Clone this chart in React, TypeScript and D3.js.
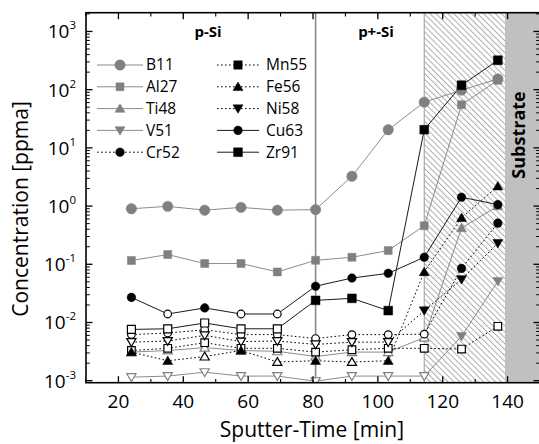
import * as d3 from 'd3';

// sputter times of the measurement points [min]
const times = [24, 35.2, 46.6, 57.8, 69, 80.8, 92, 103.2, 114.3, 125.8, 137];

// concentrations [ppma]
const b11 = [0.9, 0.99, 0.85, 0.95, 0.85, 0.87, 3.25, 20.5, 61, 98, 153];
const al27 = [0.116, 0.147, 0.103, 0.103, 0.074, 0.117, 0.132, 0.172, 0.46, 55, 145];
const ti48 = [0.0031, 0.0033, 0.0037, 0.0033, 0.0032, 0.0026, 0.0031, 0.0031, 0.0055, 0.42, 1.0];
const v51 = [0.00115, 0.0012, 0.0014, 0.0012, 0.0012, 0.00098, 0.0012, 0.0012, 0.0012, 0.0058, 0.051];
const cr52 = [0.0062, 0.0066, 0.0075, 0.0062, 0.0062, 0.0053, 0.0062, 0.0062, 0.0063, 0.085, 0.51];
const mn55 = [0.0033, 0.0036, 0.0045, 0.0036, 0.0036, 0.0031, 0.0034, 0.0036, 0.0036, 0.0035, 0.0086];
const fe56 = [0.0031, 0.0022, 0.0026, 0.0033, 0.0021, 0.0022, 0.0021, 0.0022, 0.074, 0.63, 2.2];
const ni58 = [0.0046, 0.0048, 0.006, 0.0047, 0.0048, 0.0042, 0.0046, 0.0046, 0.016, 0.055, 0.23];
const cu63 = [0.027, 0.014, 0.0178, 0.014, 0.014, 0.042, 0.058, 0.07, 0.132, 1.42, 1.06];
const zr91 = [0.0076, 0.0078, 0.0098, 0.0078, 0.0078, 0.024, 0.026, 0.016, 20.5, 119, 320];

// 1 = below detection limit (open marker)
const ti48Bdl = [1, 1, 1, 1, 1, 1, 1, 1, 1, 0, 0];
const v51Bdl = [1, 1, 1, 1, 1, 1, 1, 1, 1, 0, 0];
const cr52Bdl = [1, 1, 1, 1, 1, 1, 1, 1, 1, 0, 0];
const mn55Bdl = [1, 1, 1, 1, 1, 1, 1, 1, 1, 1, 1];
const fe56Bdl = [0, 0, 1, 0, 1, 0, 1, 0, 0, 0, 0];
const ni58Bdl = [1, 1, 1, 1, 1, 1, 1, 1, 0, 0, 0];
const cu63Bdl = [0, 1, 0, 1, 1, 0, 0, 0, 0, 0, 0];
const zr91Bdl = [1, 1, 1, 1, 1, 0, 0, 0, 0, 0, 0];
const noBdl = times.map(() => 0);

const xTicks = [20, 40, 60, 80, 100, 120, 140];
const yDecades = [-3, -2, -1, 0, 1, 2, 3];

const pSiEnd = 80.8;
const hatchStart = 114.3;
const substrateStart = 139.2;

const GREY = '#808080';
const GREY_LINE = '#8c8c8c';
const FONT = '"Open Sans", "Noto Sans", sans-serif';

type Shape = 'circle' | 'square' | 'up' | 'down';
type Series = {
  name: string;
  values: number[];
  bdl: number[];
  shape: Shape;
  color: string;
  lineColor: string;
  dotted: boolean;
  size: number;
};

const series: Series[] = [
  { name: 'B11', values: b11, bdl: noBdl, shape: 'circle', color: GREY, lineColor: GREY_LINE, dotted: false, size: 5.2 },
  { name: 'Al27', values: al27, bdl: noBdl, shape: 'square', color: GREY, lineColor: GREY_LINE, dotted: false, size: 4 },
  { name: 'Ti48', values: ti48, bdl: ti48Bdl, shape: 'up', color: GREY, lineColor: GREY_LINE, dotted: false, size: 5 },
  { name: 'V51', values: v51, bdl: v51Bdl, shape: 'down', color: GREY, lineColor: GREY_LINE, dotted: false, size: 5 },
  { name: 'Cr52', values: cr52, bdl: cr52Bdl, shape: 'circle', color: '#000', lineColor: '#000', dotted: true, size: 4.3 },
  { name: 'Mn55', values: mn55, bdl: mn55Bdl, shape: 'square', color: '#000', lineColor: '#000', dotted: true, size: 4.2 },
  { name: 'Fe56', values: fe56, bdl: fe56Bdl, shape: 'up', color: '#000', lineColor: '#000', dotted: true, size: 5 },
  { name: 'Ni58', values: ni58, bdl: ni58Bdl, shape: 'down', color: '#000', lineColor: '#000', dotted: true, size: 5 },
  { name: 'Cu63', values: cu63, bdl: cu63Bdl, shape: 'circle', color: '#000', lineColor: '#1a1a1a', dotted: false, size: 4.3 },
  { name: 'Zr91', values: zr91, bdl: zr91Bdl, shape: 'square', color: '#000', lineColor: '#1a1a1a', dotted: false, size: 4.4 },
];

const W = 539;
const H = 444;
const left = 86;
const right = 540;
const top = 12.7;
const bottom = 382.7;

function markerPath(shape: Shape, cx: number, cy: number, s: number) {
  if (shape === 'square') {
    return `M${cx - s},${cy - s}h${2 * s}v${2 * s}h${-2 * s}Z`;
  }
  if (shape === 'up') {
    return `M${cx},${cy - s * 0.95}L${cx + s},${cy + s * 0.75}L${cx - s},${cy + s * 0.75}Z`;
  }
  if (shape === 'down') {
    return `M${cx},${cy + s * 0.95}L${cx + s},${cy - s * 0.75}L${cx - s},${cy - s * 0.75}Z`;
  }
  return '';
}

function Marker({ s, x, y, open }: { s: Series; x: number; y: number; open: boolean }) {
  const fill = open ? '#fff' : s.color;
  const stroke = s.color;
  if (s.shape === 'circle') {
    return <circle cx={x} cy={y} r={open ? s.size - 0.5 : s.size} fill={fill} stroke={stroke} strokeWidth={open ? 1.2 : 0.5} />;
  }
  return (
    <path
      d={markerPath(s.shape, x, y, open ? s.size - 0.4 : s.size)}
      fill={fill}
      stroke={stroke}
      strokeWidth={open ? 1.2 : 0.5}
      strokeLinejoin="miter"
    />
  );
}

export default function App() {
  const x = d3.scaleLinear().domain([10, 150]).range([left, right]);
  const y = d3.scaleLog().domain([0.000924, 2100]).range([bottom, top]);

  const line = d3
    .line<number>()
    .x((_, i) => x(times[i]))
    .y((v) => y(v));

  const minorY: number[] = [];
  for (let e = -4; e <= 3; e++) {
    for (let m = 2; m <= 9; m++) {
      const v = m * Math.pow(10, e);
      if (v > 0.000924 && v < 2100) minorY.push(v);
    }
  }
  const minorX = d3.range(10, 151, 10).filter((t) => t % 20 !== 0);

  const legendRows = [0, 1, 2, 3, 4];
  const legendY = (i: number) => 65 + i * 21.8;
  const legendCols = [
    { x0: 97, x1: 143, mx: 120, tx: 146 },
    { x0: 217, x1: 259, mx: 238, tx: 266 },
  ];

  return (
    <div style={{ position: 'absolute', left: 0, top: 0 }}>
      <svg width={W} height={H} style={{ display: 'block', fontFamily: FONT }}>
        <defs>
          <pattern id="hatch" patternUnits="userSpaceOnUse" width={4.2} height={4.2} patternTransform="rotate(-45)">
            <rect width={4.2} height={4.2} fill="#fff" />
            <line x1={0.5} y1={0} x2={0.5} y2={4.2} stroke="#a6a6a6" strokeWidth={0.9} />
          </pattern>
          <clipPath id="plot">
            <rect x={left} y={top} width={right - left} height={bottom - top} />
          </clipPath>
        </defs>

        <rect x={x(hatchStart)} y={top} width={x(substrateStart) - x(hatchStart)} height={bottom - top} fill="url(#hatch)" />
        <rect x={x(substrateStart)} y={top} width={right - x(substrateStart)} height={bottom - top} fill="#c0c0c0" />
        <line x1={x(hatchStart)} x2={x(hatchStart)} y1={top} y2={bottom} stroke="#9a9a9a" strokeWidth={1} />
        <line x1={x(pSiEnd)} x2={x(pSiEnd)} y1={top} y2={bottom} stroke="#8a8a8a" strokeWidth={1.6} />

        <text x={208} y={37} textAnchor="middle" fontWeight="bold" fontSize={15}>p-Si</text>
        <text x={376} y={37} textAnchor="middle" fontWeight="bold" fontSize={15}>p+-Si</text>
        <text
          transform={`translate(525,135) rotate(-90)`}
          textAnchor="middle"
          fontWeight="bold"
          fontSize={18}
        >
          Substrate
        </text>

        <g clipPath="url(#plot)">
          {series.map((s) => (
            <path
              key={s.name}
              d={line(s.values) || ''}
              fill="none"
              stroke={s.lineColor}
              strokeWidth={1}
              strokeDasharray={s.dotted ? '1.6,2.4' : undefined}
            />
          ))}
          {series.map((s) =>
            s.values.map((v, i) => (
              <Marker key={`${s.name}-${i}`} s={s} x={x(times[i])} y={y(v)} open={s.bdl[i] === 1} />
            ))
          )}
        </g>

        {/* legend */}
        {series.map((s, k) => {
          const col = legendCols[k < 5 ? 0 : 1];
          const ly = legendY(legendRows[k % 5]);
          return (
            <g key={`leg-${s.name}`}>
              <line
                x1={col.x0}
                x2={col.x1}
                y1={ly}
                y2={ly}
                stroke={s.lineColor}
                strokeWidth={1}
                strokeDasharray={s.dotted ? '1.6,2.4' : undefined}
              />
              <Marker s={s} x={col.mx} y={ly} open={false} />
              <text x={col.tx} y={ly + 5.3} fontSize={15.5}>{s.name}</text>
            </g>
          );
        })}

        {/* axes frame */}
        <rect x={left} y={top} width={right - left} height={bottom - top} fill="none" stroke="#000" strokeWidth={1.6} />

        {xTicks.map((t) => (
          <g key={`xt-${t}`}>
            <line x1={x(t)} x2={x(t)} y1={bottom} y2={bottom - 6.5} stroke="#000" strokeWidth={1.3} />
            <line x1={x(t)} x2={x(t)} y1={top} y2={top + 6.5} stroke="#000" strokeWidth={1.3} />
            <text x={x(t)} y={408} textAnchor="middle" fontSize={19}>{t}</text>
          </g>
        ))}
        {minorX.map((t) => (
          <g key={`xm-${t}`}>
            <line x1={x(t)} x2={x(t)} y1={bottom} y2={bottom - 3.8} stroke="#000" strokeWidth={1.1} />
            <line x1={x(t)} x2={x(t)} y1={top} y2={top + 3.8} stroke="#000" strokeWidth={1.1} />
          </g>
        ))}

        {yDecades.map((e) => {
          const yy = y(Math.pow(10, e));
          return (
            <g key={`yt-${e}`}>
              <line x1={left} x2={left + 6.5} y1={yy} y2={yy} stroke="#000" strokeWidth={1.3} />
              <line x1={right} x2={right - 6.5} y1={yy} y2={yy} stroke="#000" strokeWidth={1.3} />
              <text x={76} y={yy + 7} textAnchor="end" fontSize={19}>
                10
                <tspan dy={-9} fontSize={11.5}>{e}</tspan>
              </text>
            </g>
          );
        })}
        {minorY.map((v) => (
          <g key={`ym-${v}`}>
            <line x1={left} x2={left + 3.8} y1={y(v)} y2={y(v)} stroke="#000" strokeWidth={1} />
            <line x1={right} x2={right - 3.8} y1={y(v)} y2={y(v)} stroke="#000" strokeWidth={1} />
          </g>
        ))}

        <text x={312} y={437} textAnchor="middle" fontSize={21}>Sputter-Time [min]</text>
        <text transform="translate(28,209) rotate(-90)" textAnchor="middle" fontSize={21}>
          Concentration [ppma]
        </text>
      </svg>
    </div>
  );
}
